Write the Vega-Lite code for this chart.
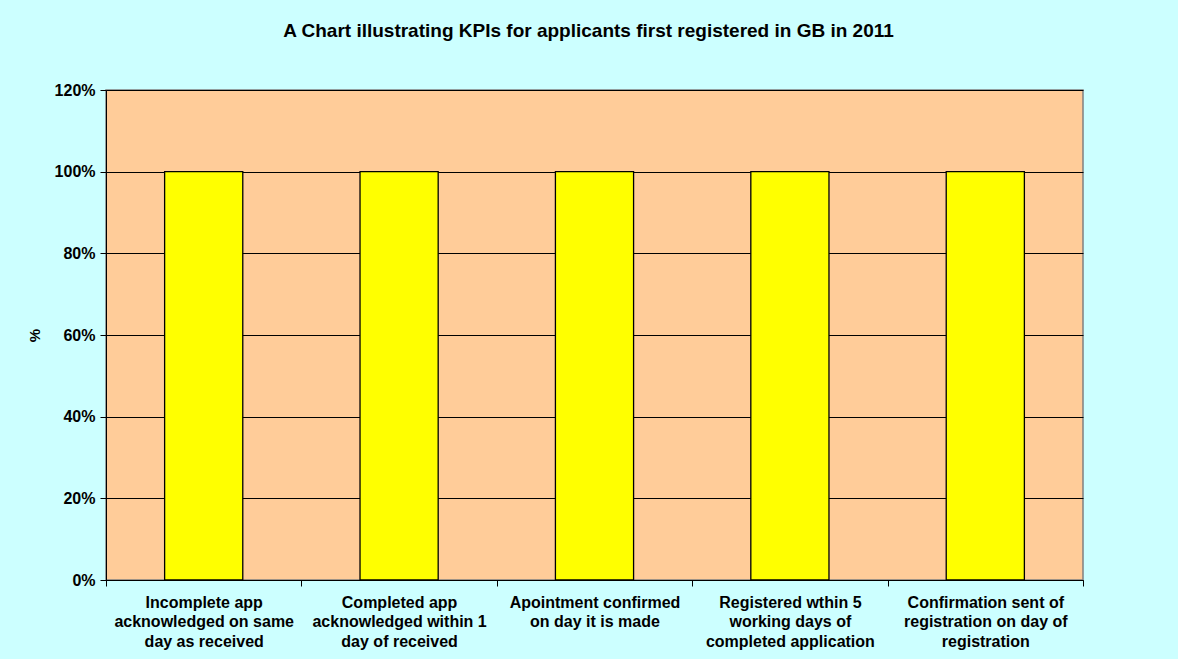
{
  "$schema": "https://vega.github.io/schema/vega-lite/v6.json",
  "autosize": {"type": "none"},
  "width": 977,
  "height": 490,
  "padding": {"left": 106, "top": 90, "right": 95, "bottom": 79},
  "background": "#CCFFFF",
  "title": {
    "text": "A Chart illustrating KPIs for applicants first registered in GB in 2011",
    "font": "Liberation Sans",
    "fontSize": 19,
    "fontWeight": "bold",
    "color": "#000000",
    "anchor": "middle",
    "baseline": "alphabetic",
    "offset": 26,
    "dx": -6
  },
  "data": {
    "values": [
      {"kpi": "Incomplete app\nacknowledged on same\nday as received", "value": 1.0},
      {"kpi": "Completed app\nacknowledged within 1\nday of received", "value": 1.0},
      {"kpi": "Apointment confirmed\non day it is made", "value": 1.0},
      {"kpi": "Registered wthin 5\nworking days of\ncompleted application", "value": 1.0},
      {"kpi": "Confirmation sent of\nregistration on day of\nregistration", "value": 1.0}
    ]
  },
  "mark": {"type": "bar", "color": "#FFFF00", "stroke": "#000000", "strokeWidth": 1.3, "width": {"band": 0.4}},
  "encoding": {
    "x": {
      "field": "kpi",
      "type": "nominal",
      "sort": null,
      "scale": {"paddingInner": 0, "paddingOuter": 0},
      "axis": {
        "title": null,
        "labelAngle": 0,
        "labelExpr": "split(datum.label, '\\n')",
        "labelFont": "Liberation Sans",
        "labelFontSize": 16,
        "labelFontWeight": "bold",
        "labelColor": "#000000",
        "labelLineHeight": 19.5,
        "labelPadding": 8,
        "labelLimit": 0,
        "tickBand": "extent",
        "tickSize": 6,
        "tickColor": "#000000",
        "domainColor": "#000000",
        "grid": false
      }
    },
    "y": {
      "field": "value",
      "type": "quantitative",
      "scale": {"domain": [0, 1.2], "nice": false},
      "axis": {
        "title": "%",
        "titleFont": "Liberation Sans",
        "titleFontSize": 15,
        "titleFontWeight": "bold",
        "titleColor": "#000000",
        "titlePadding": 12,
        "format": ".0%",
        "values": [0, 0.2, 0.4, 0.6, 0.8, 1.0, 1.2],
        "labelFont": "Liberation Sans",
        "labelFontSize": 16,
        "labelFontWeight": "bold",
        "labelColor": "#000000",
        "labelPadding": 5,
        "tickSize": 6,
        "tickColor": "#000000",
        "domainColor": "#000000",
        "grid": true,
        "gridColor": "#000000",
        "gridOpacity": 1,
        "gridWidth": 1
      }
    }
  },
  "config": {
    "view": {"fill": "#FFCC99", "stroke": "#808080", "strokeWidth": 1.5}
  }
}
